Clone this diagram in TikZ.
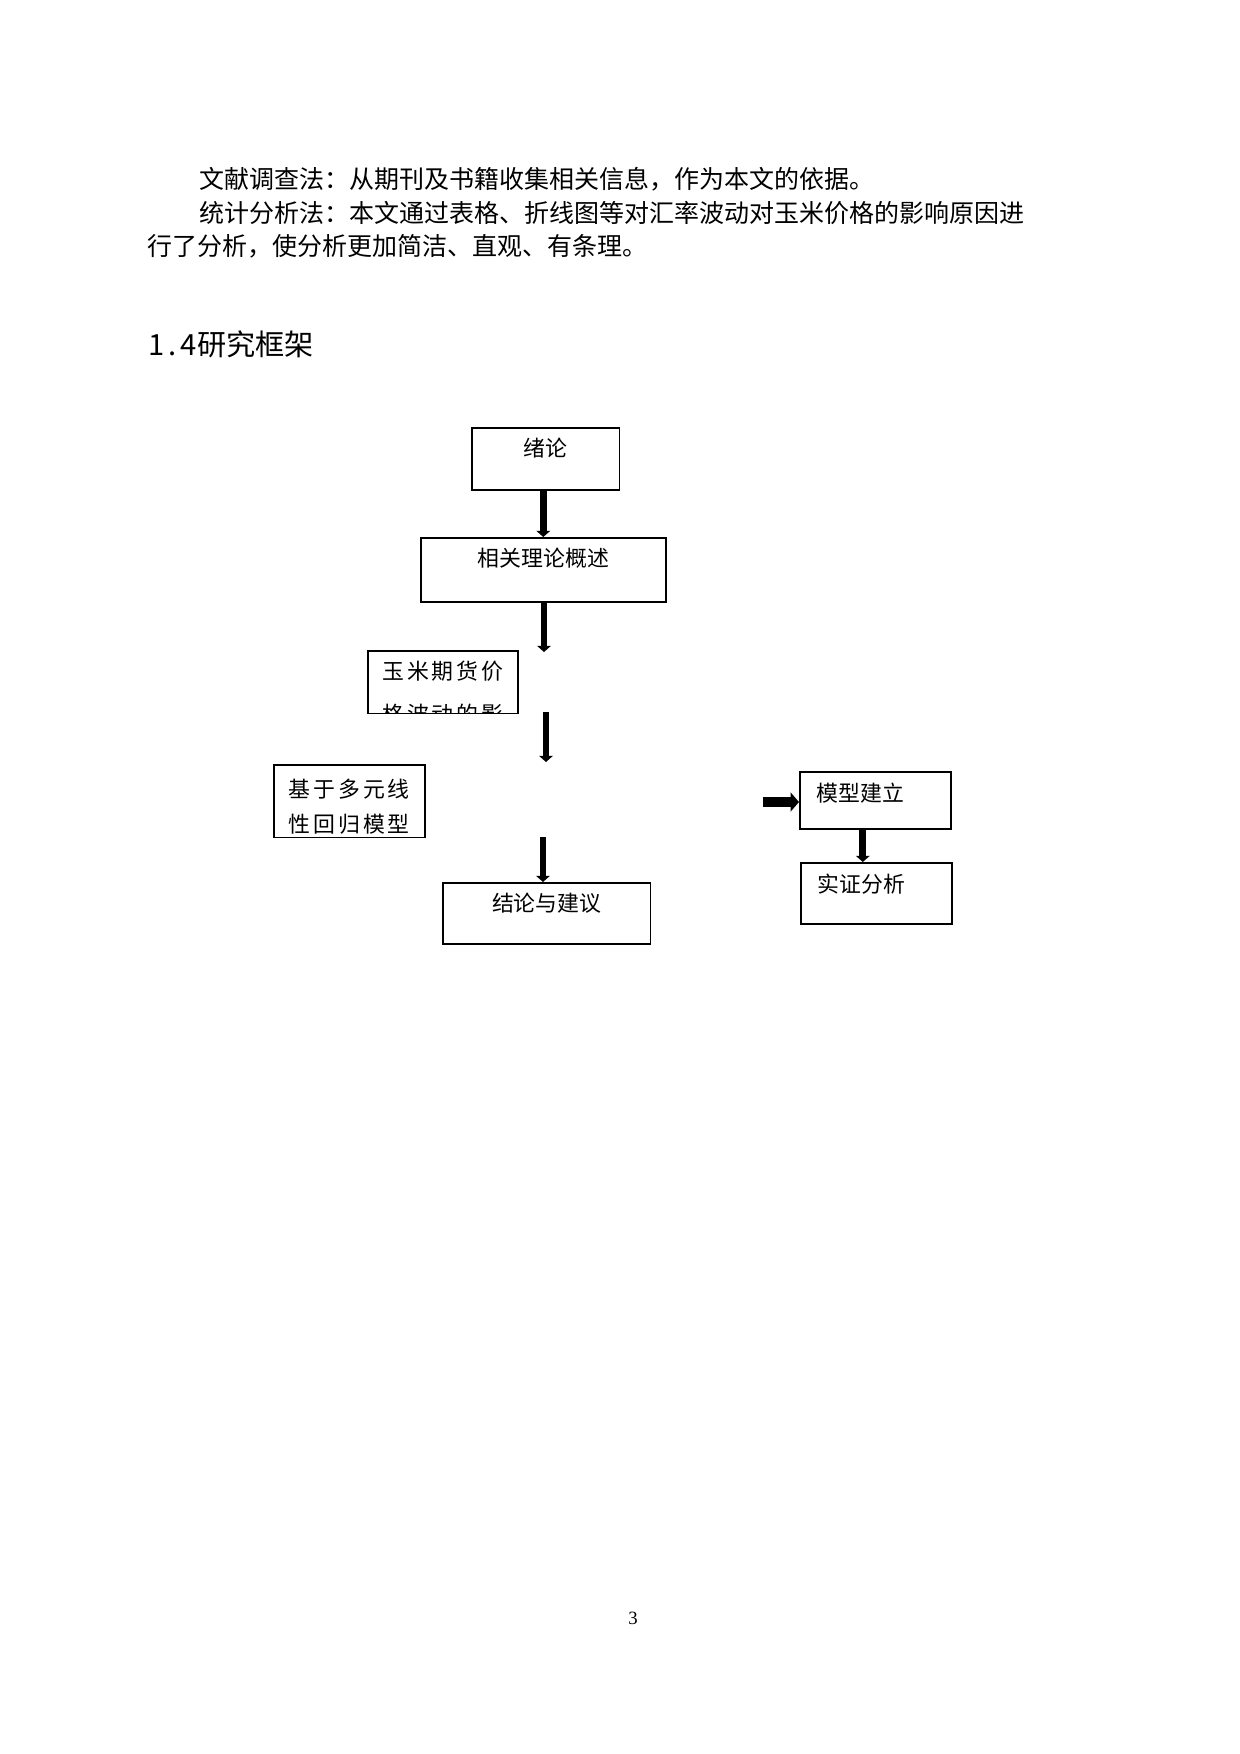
\documentclass[tikz,border=0pt]{standalone}
\usepackage{fontspec}
\usepackage{tikz}
\usetikzlibrary{arrows.meta}
\newfontfamily\cjk{Noto Sans CJK SC}
\newfontfamily\cjkwide[LetterSpace=12.9]{Noto Sans CJK SC}
\newfontfamily\cjkdigit[LetterSpace=14]{Noto Sans CJK SC}
\newfontfamily\pagenum{Liberation Serif}

\begin{document}
\begin{tikzpicture}[x=0.48pt,y=-0.48pt]
\tikzstyle{every node}+=[inner sep=0pt]
\tikzstyle{bodytext}=[anchor=west,font=\fontsize{12}{14}\cjk]
\tikzstyle{stagebox}=[draw=black,line width=0.75pt,anchor=north west,font=\fontsize{10.5}{12}\cjk]
\tikzstyle{widetext}=[anchor=north,align=center,font=\fontsize{10.5}{16.8}\cjkwide]
\tikzstyle{flowarrow}=[line width=3.2pt,-{Triangle[width=6.6pt,length=3pt]}]
\tikzstyle{sidearrow}=[line width=4.8pt,-{Triangle[width=9pt,length=4pt]}]
\useasboundingbox (0,0) rectangle (1240,1754);
\node[bodytext] (line1) at (199,179) {文献调查法：从期刊及书籍收集相关信息，作为本文的依据。};
\node[bodytext] (line2) at (199,213) {统计分析法：本文通过表格、折线图等对汇率波动对玉米价格的影响原因进};
\node[bodytext] (line3) at (147,246) {行了分析，使分析更加简洁、直观、有条理。};
\node[anchor=west,font=\fontsize{14}{16}\cjk] (heading) at (148,344) {{\cjkdigit 1.4}研究框架};
\node[stagebox,minimum width=71pt,text height=13.8pt,text depth=16pt] (intro) at (471,427) {绪论};
\node[stagebox,minimum width=117.6pt,text height=13.8pt,text depth=16.9pt] (theory) at (420,537) {相关理论概述};
\node[stagebox,minimum width=72pt,minimum height=30.2pt,
  path picture={\node[widetext] (pricetext) at ([yshift=-4.6pt]path picture bounding box.north) {玉米期货价\\[3.4pt]格波动的影};}] (price) at (367,650) {};
\node[stagebox,minimum width=72.5pt,minimum height=35pt,
  path picture={\node[widetext] (regresstext) at ([yshift=-2.4pt]path picture bounding box.north) {基于多元线\\性回归模型};}] (regress) at (273,764) {};
\node[stagebox,minimum width=99.8pt,text height=13.8pt,text depth=15.5pt] (concl) at (442,882) {结论与建议};
\node[stagebox,inner xsep=8.2pt,text width=56.1pt,align=left,text height=14.3pt,text depth=13.1pt] (model) at (799,771) {模型建立};
\node[stagebox,inner xsep=8.2pt,text width=56.1pt,align=left,text height=14.3pt,text depth=15pt] (evid) at (800,862) {实证分析};
\coordinate (tip2) at (544,652);
\coordinate (tail3) at (546,712);
\coordinate (tip3) at (546,762);
\coordinate (tail4) at (543,837);
\coordinate (tail5) at (763,802);
\draw[flowarrow] (intro.south -| theory.north) -- (theory.north);
\draw[flowarrow] (theory.south -| tip2) -- (tip2);
\draw[flowarrow] (tail3) -- (tip3);
\draw[flowarrow] (tail4) -- (tail4 |- concl.north);
\draw[sidearrow] (tail5) -- (tail5 -| model.west);
\draw[flowarrow] ([xshift=-6pt]model.south) -- ([xshift=-6pt]model.south |- evid.north);
\node[font=\fontsize{9}{11}\pagenum] (page) at (633,1618) {3};
\end{tikzpicture}
\end{document}
